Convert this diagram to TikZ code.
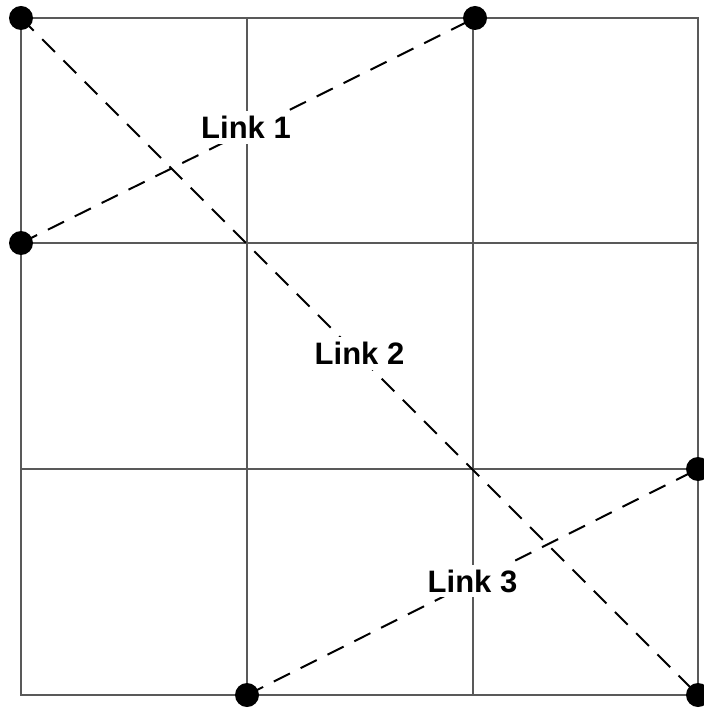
\documentclass[tikz,border=0pt]{standalone}
\usepackage{fontspec}
\setmainfont{Liberation Sans}
\begin{document}
\begin{tikzpicture}[x=1pt,y=-1pt,
  gridline/.style={line width=1.6pt,draw=black!65},
  linkline/.style={line width=2pt,draw=black,dash pattern=on 18pt off 12pt},
  dot/.style={circle,fill=black,inner sep=0pt,minimum size=24pt},
  linklabel/.style={fill=white,inner sep=5pt,font=\fontsize{31}{37}\selectfont\bfseries}]
\useasboundingbox (0,0) rectangle (703,708);
% grid
\draw[gridline] (21,18) rectangle (698,695);
\draw[gridline] (247,18) -- (247,695);
\draw[gridline] (473,18) -- (473,695);
\draw[gridline] (21,243) -- (698,243);
\draw[gridline] (21,469) -- (698,469);
% end points
\coordinate (p1) at (21,18);
\coordinate (p2) at (475,18);
\coordinate (p3) at (21,243);
\coordinate (p4) at (698,469);
\coordinate (p5) at (698,695);
\coordinate (p6) at (247,695);
% links
\draw[linkline] (p3) -- (p2) coordinate[pos=0.5] (m1);
\draw[linkline] (p1) -- (p5) coordinate[pos=0.5] (m2);
\draw[linkline] (p6) -- (p4) coordinate[pos=0.5] (m3);
% dots
\node[dot] (d1) at (p1) {};
\node[dot] (d2) at (p2) {};
\node[dot] (d3) at (p3) {};
\node[dot] (d4) at (p4) {};
\node[dot] (d5) at (p5) {};
\node[dot] (d6) at (p6) {};
% labels
\node[linklabel] (l1) at ([xshift=-2pt,yshift=3pt]m1) {Link 1};
\node[linklabel] (l2) at ([yshift=3pt]m2) {Link 2};
\node[linklabel] (l3) at ([yshift=1pt]m3) {Link 3};
\end{tikzpicture}
\end{document}
